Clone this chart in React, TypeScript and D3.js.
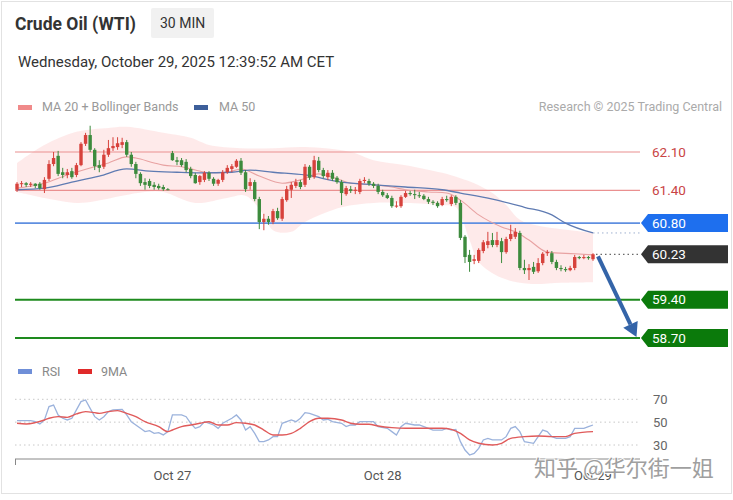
import React from 'react';
import * as d3 from 'd3';

const W = 733;
const H = 500;

// ---- candle data (30 min) ----
const opens = [
  61.41, 61.52, 61.53, 61.50, 61.52, 61.52, 61.42, 61.61, 61.88, 62.03,
  61.73, 61.68, 61.75, 61.68, 61.86, 62.25, 62.41, 62.14, 61.86, 61.83,
  62.05, 62.17, 62.19, 62.23, 62.28, 62.05, 61.88, 61.70, 61.55, 61.57,
  61.50, 61.48, 61.46, 61.42, 62.08, 61.95, 61.95, 61.92, 61.79, 61.68,
  61.55, 61.59, 61.72, 61.61, 61.52, 61.59, 61.73, 61.79, 61.83, 61.94,
  61.73, 61.48, 61.55, 61.24, 60.82, 60.88, 60.82, 61.02, 60.88, 61.22,
  61.41, 61.48, 61.55, 61.50, 61.83, 61.64, 61.94, 61.77, 61.64, 61.72,
  61.63, 61.55, 61.33, 61.42, 61.39, 61.37, 61.57, 61.57, 61.52, 61.48,
  61.37, 61.31, 61.26, 61.11, 61.11, 61.28, 61.35, 61.33, 61.31, 61.30,
  61.24, 61.19, 61.17, 61.13, 61.24, 61.15, 61.28, 61.17, 60.55, 60.22,
  60.11, 60.11, 60.29, 60.40, 60.49, 60.40, 60.47, 60.27, 60.51, 60.55,
  60.62, 59.98, 59.94, 60.00, 59.92, 60.07, 60.25, 60.25, 60.09, 59.98,
  59.96, 59.94, 59.98, 60.18, 60.16, 60.18, 60.14,
];
const highs = [
  61.55, 61.57, 61.55, 61.55, 61.53, 61.55, 61.64, 61.95, 62.10, 62.12,
  61.81, 61.79, 61.81, 61.90, 62.28, 62.45, 62.58, 62.17, 61.95, 62.14,
  62.32, 62.37, 62.37, 62.36, 62.32, 62.10, 61.92, 61.73, 61.62, 61.61,
  61.55, 61.52, 61.50, 61.44, 62.12, 62.01, 61.99, 61.97, 61.83, 61.72,
  61.68, 61.75, 61.75, 61.64, 61.61, 61.77, 61.86, 61.88, 61.97, 61.99,
  61.77, 61.62, 61.59, 61.28, 60.97, 60.93, 61.06, 61.08, 61.28, 61.48,
  61.55, 61.61, 61.59, 61.88, 61.86, 62.03, 62.01, 61.81, 61.77, 61.77,
  61.66, 61.59, 61.48, 61.48, 61.46, 61.61, 61.64, 61.61, 61.55, 61.52,
  61.41, 61.35, 61.30, 61.20, 61.31, 61.39, 61.39, 61.41, 61.37, 61.33,
  61.28, 61.22, 61.20, 61.28, 61.30, 61.31, 61.31, 61.22, 60.58, 60.31,
  60.22, 60.34, 60.49, 60.64, 60.62, 60.64, 60.53, 60.55, 60.77, 60.71,
  60.66, 60.13, 60.05, 60.09, 60.16, 60.27, 60.31, 60.29, 60.13, 60.03,
  60.00, 60.02, 60.22, 60.20, 60.22, 60.20, 60.25,
];
const lows = [
  61.37, 61.46, 61.46, 61.46, 61.44, 61.41, 61.35, 61.57, 61.84, 61.66,
  61.62, 61.62, 61.61, 61.64, 61.84, 62.21, 62.10, 61.77, 61.73, 61.79,
  62.01, 62.12, 62.14, 62.17, 62.01, 61.83, 61.62, 61.48, 61.41, 61.44,
  61.41, 61.41, 61.39, 61.40, 61.94, 61.86, 61.83, 61.73, 61.62, 61.52,
  61.50, 61.55, 61.57, 61.48, 61.48, 61.55, 61.70, 61.73, 61.81, 61.68,
  61.37, 61.41, 61.20, 60.69, 60.67, 60.77, 60.78, 60.86, 60.84, 61.19,
  61.26, 61.44, 61.42, 61.46, 61.59, 61.61, 61.73, 61.62, 61.59, 61.57,
  61.52, 61.13, 61.30, 61.35, 61.33, 61.33, 61.53, 61.48, 61.44, 61.33,
  61.28, 61.24, 61.08, 61.08, 61.08, 61.26, 61.30, 61.24, 61.26, 61.22,
  61.15, 61.13, 61.08, 61.11, 61.19, 61.11, 61.13, 60.49, 60.07, 59.91,
  60.05, 60.07, 60.25, 60.34, 60.36, 60.36, 60.07, 60.24, 60.47, 60.51,
  59.94, 59.87, 59.76, 59.87, 59.89, 60.03, 60.20, 60.05, 59.94, 59.92,
  59.91, 59.92, 59.94, 60.14, 60.14, 60.13, 60.11,
];
const closes = [
  61.52, 61.53, 61.50, 61.52, 61.48, 61.44, 61.59, 61.88, 61.99, 61.70,
  61.68, 61.73, 61.64, 61.86, 62.25, 62.41, 62.14, 61.84, 61.81, 62.05,
  62.17, 62.21, 62.26, 62.28, 62.05, 61.88, 61.70, 61.53, 61.50, 61.48,
  61.46, 61.44, 61.42, 61.41, 61.95, 61.92, 61.86, 61.77, 61.66, 61.53,
  61.66, 61.72, 61.61, 61.52, 61.59, 61.73, 61.81, 61.84, 61.94, 61.72,
  61.42, 61.55, 61.24, 60.82, 60.88, 60.82, 61.02, 60.89, 61.24, 61.42,
  61.50, 61.55, 61.46, 61.83, 61.63, 61.95, 61.77, 61.66, 61.72, 61.61,
  61.55, 61.35, 61.44, 61.39, 61.41, 61.57, 61.59, 61.52, 61.48, 61.37,
  61.31, 61.26, 61.11, 61.12, 61.28, 61.35, 61.33, 61.32, 61.30, 61.24,
  61.19, 61.17, 61.11, 61.24, 61.22, 61.28, 61.17, 60.53, 60.18, 60.09,
  60.14, 60.31, 60.45, 60.47, 60.40, 60.49, 60.27, 60.51, 60.60, 60.64,
  59.98, 59.94, 59.98, 59.91, 60.07, 60.24, 60.27, 60.09, 59.98, 59.96,
  59.94, 59.98, 60.18, 60.16, 60.18, 60.16, 60.23,
];

// ---- indicators (candle index, value) ----
const ma50Idx = [0, 6, 12, 18, 24, 29, 35, 40, 47, 51, 56, 63, 71, 78, 85, 93, 97, 104, 111, 117, 120, 126];
const ma50Val = [61.41, 61.44, 61.55, 61.66, 61.79, 61.75, 61.73, 61.72, 61.73, 61.77, 61.73, 61.68, 61.55, 61.50, 61.46, 61.41, 61.35, 61.24, 61.09, 60.95, 60.80, 60.62];

const ma20Idx = [0, 6, 11, 17, 20, 24, 26, 30, 32, 36, 39, 42, 46, 49, 53, 58, 62, 66, 69, 73, 78, 82, 85, 90, 94, 97, 101, 106, 109, 112, 116, 122, 126];
const ma20Val = [61.44, 61.53, 61.68, 61.83, 61.90, 62.01, 61.99, 61.90, 61.86, 61.83, 61.77, 61.72, 61.73, 61.79, 61.66, 61.53, 61.59, 61.70, 61.64, 61.53, 61.50, 61.46, 61.41, 61.37, 61.35, 61.22, 60.95, 60.73, 60.64, 60.49, 60.27, 60.24, 60.22];

const bbUpIdx = [0, 6, 13, 20, 24, 32, 38, 42, 49, 56, 63, 73, 78, 85, 93, 97, 100, 104, 107, 110, 114, 122, 126];
const bbUpVal = [61.90, 62.23, 62.47, 62.54, 62.56, 62.45, 62.36, 62.23, 62.17, 62.17, 62.19, 62.10, 61.95, 61.86, 61.72, 61.62, 61.53, 61.35, 61.13, 60.86, 60.75, 60.66, 60.62];

const bbLoIdx = [0, 6, 13, 17, 23, 28, 32, 39, 46, 50, 54, 56, 60, 63, 71, 78, 85, 93, 96, 99, 101, 106, 112, 119, 126];
const bbLoVal = [61.37, 61.26, 61.17, 61.20, 61.30, 61.37, 61.37, 61.17, 61.26, 61.30, 60.95, 60.67, 60.64, 60.82, 61.09, 61.17, 61.17, 61.13, 61.09, 60.49, 60.09, 59.80, 59.69, 59.71, 59.72];

const rsiIdx = [0, 3, 4, 5, 6, 7, 8, 9, 10, 11, 12, 13, 14, 15, 16, 17, 18, 19, 20, 21, 23, 24, 25, 27, 28, 29, 30, 31, 32, 33, 34, 36, 37, 38, 39, 40, 41, 43, 44, 45, 47, 48, 49, 50, 51, 52, 53, 54, 55, 56, 57, 58, 59, 60, 61, 62, 63, 64, 66, 67, 68, 69, 71, 72, 73, 74, 75, 76, 78, 79, 81, 82, 83, 84, 85, 87, 88, 90, 91, 93, 94, 95, 96, 97, 98, 99, 100, 101, 102, 103, 104, 106, 107, 108, 109, 110, 111, 113, 114, 115, 116, 117, 118, 119, 120, 121, 122, 123, 124, 125, 126];
const rsiVal = [51.3, 51.3, 50.4, 48.4, 51.9, 63.6, 65.0, 56.3, 53.4, 51.9, 53.4, 60.7, 68.0, 69.4, 62.1, 54.8, 51.9, 54.8, 59.2, 60.7, 61.2, 56.3, 50.4, 44.6, 41.7, 42.6, 40.2, 40.8, 38.8, 41.7, 56.3, 56.3, 54.8, 49.0, 44.6, 46.1, 50.4, 47.5, 44.6, 49.0, 53.4, 56.3, 51.9, 43.1, 46.1, 40.2, 32.9, 32.9, 34.4, 37.3, 37.3, 49.0, 50.4, 51.9, 50.4, 53.4, 58.3, 57.7, 54.8, 51.9, 52.5, 50.4, 49.0, 46.1, 47.5, 47.5, 50.4, 50.4, 50.4, 46.1, 44.6, 41.7, 38.8, 46.1, 49.0, 47.5, 47.5, 44.6, 43.1, 43.1, 44.6, 43.1, 43.7, 32.9, 25.6, 21.2, 22.7, 27.1, 34.4, 35.8, 34.4, 34.4, 37.3, 44.6, 46.1, 41.7, 32.9, 31.5, 37.3, 43.1, 41.7, 37.3, 35.8, 35.8, 35.8, 37.3, 44.6, 44.6, 44.6, 46.1, 47.5];

const ma9Idx = [0, 2, 4, 6, 7, 9, 11, 13, 15, 17, 18, 20, 22, 24, 26, 28, 31, 33, 34, 36, 38, 40, 42, 44, 46, 48, 50, 52, 54, 56, 58, 60, 62, 64, 66, 68, 71, 73, 75, 77, 79, 82, 85, 88, 91, 93, 95, 97, 99, 101, 104, 106, 108, 111, 114, 117, 120, 122, 126];
const ma9Val = [49.0, 48.4, 49.6, 51.9, 53.4, 54.8, 54.2, 57.2, 59.2, 58.3, 57.7, 59.2, 60.1, 57.7, 54.8, 50.4, 46.1, 41.7, 43.1, 46.1, 47.5, 49.0, 50.4, 47.5, 47.5, 49.6, 49.0, 47.5, 43.1, 38.8, 38.8, 40.2, 44.6, 50.4, 53.4, 53.4, 51.9, 49.0, 48.1, 48.1, 46.6, 45.2, 44.6, 44.6, 44.6, 44.6, 43.7, 40.2, 34.4, 31.5, 30.0, 31.5, 35.8, 37.3, 37.9, 37.3, 37.3, 40.2, 41.7];

// ---- levels and ticks ----
const resistanceLevels = [62.10, 61.40];
const pivotLevel = 60.80;
const lastPrice = 60.23;
const supportLevels = [59.40, 58.70];
const rsiTicks = [70, 50, 30];
const xTickIdx = [34, 80, 126];
const xTickLabels = ['Oct 27', 'Oct 28', 'Oct 29'];

const FONT = 'Roboto, "Liberation Sans", Arial, sans-serif';

function zip(idx: number[], val: number[]): [number, number][] {
  return idx.map((d, i) => [d, val[i]] as [number, number]);
}

export default function App() {
  const plotL = 15;
  const plotR = 640;
  const x = d3.scaleLinear().domain([0, 126]).range([17, 593]);
  const y = d3.scaleLinear().domain([58.7, 62.1]).range([338, 152]);
  const yr = d3.scaleLinear().domain([30, 70]).range([445, 399.3]);

  const lineP = d3.line<[number, number]>().x(d => x(d[0])).y(d => y(d[1])).curve(d3.curveMonotoneX);
  const lineCR = d3.line<[number, number]>().x(d => x(d[0])).y(d => y(d[1])).curve(d3.curveCatmullRom.alpha(0.5));
  const lineR = d3.line<[number, number]>().x(d => x(d[0])).y(d => yr(d[1]));
  const lineRS = d3.line<[number, number]>().x(d => x(d[0])).y(d => yr(d[1])).curve(d3.curveMonotoneX);

  const upPts = zip(bbUpIdx, bbUpVal);
  const loPts = zip(bbLoIdx, bbLoVal).reverse();
  const bandPath = (lineCR(upPts) || '') + 'L' + (lineCR(loPts) || '').substring(1) + 'Z';

  const upCol = '#d7423c';
  const dnCol = '#3d8b3d';
  const cw = 3.4;

  const labelBox = (val: number, fill: string, key: string) => {
    const yy = y(val);
    const pts = [[641, yy], [648, yy - 9], [728, yy - 9], [728, yy + 9], [648, yy + 9]].map(p => p.join(',')).join(' ');
    return (
      <g key={key}>
        <polygon points={pts} fill={fill} />
        <text x={652} y={yy + 4.7} fill="#fff" fontSize={13.5} fontFamily={FONT}>{val.toFixed(2)}</text>
      </g>
    );
  };

  // arrow from last candle to second support
  const sx = x(126) + 5;
  const sy = y(lastPrice) + 2;
  const tx = 636.5;
  const ty = y(supportLevels[1]) - 1;
  const dx = tx - sx, dy = ty - sy;
  const len = Math.sqrt(dx * dx + dy * dy);
  const ux = dx / len, uy = dy / len;
  const nx = -uy, ny = ux;
  const headL = 14, headW = 8;
  const bx = tx - headL * ux, by = ty - headL * uy;

  const ma50End = ma50Val[ma50Val.length - 1];

  return (
    <svg width={W} height={H} style={{ position: 'absolute', left: 0, top: 0, background: '#fff' }} fontFamily={FONT}>
      <rect x={1.5} y={1.5} width={W - 3} height={492} fill="#fff" stroke="#e2e2e2" />

      {/* header */}
      <text x={15} y={30} fontSize={17.5} fontWeight="bold" fill="#333">Crude Oil (WTI)</text>
      <rect x={151} y={8} width={63} height={30} fill="#f1f1f1" rx={2} />
      <text x={160} y={28} fontSize={14} fill="#333">30 MIN</text>
      <text x={18} y={67} fontSize={15} fill="#333">Wednesday, October 29, 2025 12:39:52 AM CET</text>

      {/* legend */}
      <rect x={18} y={105} width={14} height={5} fill="#f08a8a" />
      <text x={42} y={111} fontSize={12.5} fill="#999">MA 20 + Bollinger Bands</text>
      <rect x={194} y={105} width={14} height={5} fill="#3d5f9a" />
      <text x={219} y={111} fontSize={12.5} fill="#999">MA 50</text>
      <text x={722} y={111} fontSize={12.5} fill="#aaa" textAnchor="end">Research © 2025 Trading Central</text>

      {/* bollinger band */}
      <path d={bandPath} fill="#fde3e3" opacity={0.75} />

      {/* level lines */}
      {resistanceLevels.map(v => (
        <g key={'r' + v}>
          <line x1={plotL} x2={plotR} y1={y(v)} y2={y(v)} stroke="#ea9090" strokeWidth={1.2} />
          <text x={652} y={y(v) + 4.7} fontSize={13.5} fill="#c94444">{v.toFixed(2)}</text>
        </g>
      ))}
      <line x1={plotL} x2={plotR} y1={y(pivotLevel)} y2={y(pivotLevel)} stroke="#5f8fe0" strokeWidth={1.8} />
      {supportLevels.map(v => (
        <line key={'s' + v} x1={plotL} x2={plotR} y1={y(v)} y2={y(v)} stroke="#1e8a1e" strokeWidth={2} />
      ))}

      {/* moving averages */}
      <path d={lineP(zip(ma20Idx, ma20Val)) || ''} fill="none" stroke="#e8a2a2" strokeWidth={1.1} />
      <path d={lineP(zip(ma50Idx, ma50Val)) || ''} fill="none" stroke="#5f7bb2" strokeWidth={1.3} />
      <line x1={x(126)} x2={plotR} y1={y(ma50End)} y2={y(ma50End)} stroke="#9fb0d0" strokeWidth={1} strokeDasharray="1.5,3" />

      {/* candles */}
      {opens.map((o, i) => {
        const c = closes[i];
        const col = c >= o ? upCol : dnCol;
        const top = y(Math.max(o, c));
        const bot = y(Math.min(o, c));
        return (
          <g key={'c' + i}>
            <line x1={x(i)} x2={x(i)} y1={y(Math.max(highs[i], o, c))} y2={y(Math.min(lows[i], o, c))} stroke={col} strokeWidth={1} />
            <rect x={x(i) - cw / 2} y={top} width={cw} height={Math.max(1, bot - top)} fill={col} />
          </g>
        );
      })}

      {/* last price dotted */}
      <line x1={x(126) + 3} x2={plotR} y1={y(lastPrice)} y2={y(lastPrice)} stroke="#444" strokeWidth={1} strokeDasharray="1.5,3" />

      {/* price labels */}
      {labelBox(pivotLevel, '#1e6fee', 'pv')}
      {labelBox(lastPrice, '#333333', 'lp')}
      {supportLevels.map(v => labelBox(v, '#0b7a0b', 'sl' + v))}

      {/* arrow */}
      <line x1={sx} y1={sy} x2={bx} y2={by} stroke="#3464a8" strokeWidth={4} />
      <polygon
        points={`${tx},${ty} ${bx + headW * nx},${by + headW * ny} ${bx - headW * nx},${by - headW * ny}`}
        fill="#3464a8"
      />

      {/* RSI legend */}
      <rect x={18} y={369} width={14} height={5} fill="#6f8fd8" />
      <text x={42} y={376} fontSize={12.5} fill="#888">RSI</text>
      <rect x={78} y={369} width={14} height={5} fill="#e02a2a" />
      <text x={101} y={376} fontSize={12.5} fill="#888">9MA</text>

      {/* RSI grid */}
      {rsiTicks.map(t => (
        <g key={'rt' + t}>
          <line x1={plotL} x2={plotR} y1={yr(t)} y2={yr(t)} stroke="#c8c8c8" strokeWidth={1} strokeDasharray="1.5,3" />
          <text x={653} y={yr(t) + 4.5} fontSize={13} fill="#666">{t}</text>
        </g>
      ))}
      <path d={lineR(zip(rsiIdx, rsiVal)) || ''} fill="none" stroke="#9bb2dc" strokeWidth={1.3} />
      <path d={lineRS(zip(ma9Idx, ma9Val)) || ''} fill="none" stroke="#e05a5a" strokeWidth={1.4} />

      {/* x axis */}
      <line x1={plotL} x2={plotR} y1={459} y2={459} stroke="#888" strokeWidth={1} />
      <line x1={plotL + 0.5} x2={plotL + 0.5} y1={459} y2={465} stroke="#888" strokeWidth={1} />
      {xTickIdx.map((ti, k) => (
        <text key={'xt' + ti} x={x(ti)} y={480} fontSize={13} fill="#555" textAnchor="middle">{xTickLabels[k]}</text>
      ))}

      {/* watermark */}
      <text x={534} y={476} fontSize={22} fill="#9a9a9a" stroke="#fff" strokeWidth={2} style={{ paintOrder: 'stroke' }}
        fontFamily='"Noto Sans CJK SC", sans-serif' opacity={0.95}>知乎 @华尔街一姐</text>
    </svg>
  );
}
